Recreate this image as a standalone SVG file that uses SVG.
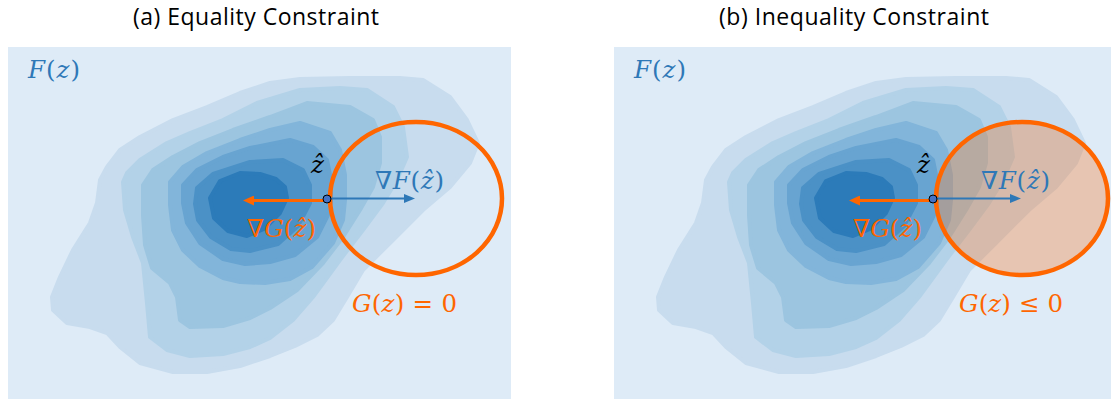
<svg xmlns="http://www.w3.org/2000/svg" width="1111" height="399" viewBox="0 0 1111 399">
<style>
.bg{fill:#deebf7}
.lv polygon{stroke-width:4;stroke-linejoin:round}
.l1{fill:#c8dcee;stroke:#c8dcee}
.l2{fill:#b3d2e8;stroke:#b3d2e8}
.l3{fill:#9cc5e0;stroke:#9cc5e0}
.l4{fill:#82b5da;stroke:#82b5da}
.l5{fill:#68a4d1;stroke:#68a4d1}
.l6{fill:#4b91c6;stroke:#4b91c6}
.l7{fill:#2c7bb9;stroke:#2c7bb9}
.title{font-family:"Open Sans","Liberation Sans",sans-serif;font-size:23px;fill:#000}
.m{font-family:"DejaVu Serif","Liberation Serif",serif;font-size:24.5px}
.i{font-style:italic}
.u{font-style:normal}
.blue{fill:#2e78b7}
.org{fill:#ff6600}
.blk{fill:#000}
.ring{fill:none;stroke:#ff6600;stroke-width:4.5}
.ringf{fill:rgba(255,102,0,0.28);stroke:#ff6600;stroke-width:4.5}
.ao{stroke:#ff6600;stroke-width:3;fill:none}
.ab{stroke:#2e78b7;stroke-width:2;fill:none}
.dot{fill:#4472c4;stroke:#000;stroke-width:1}
</style>
<defs>
<marker id="mo" markerUnits="userSpaceOnUse" markerWidth="12" markerHeight="10" refX="3" refY="5" orient="auto"><path d="M0,0 L11,5 L0,10 z" fill="#ff6600"/></marker>
<marker id="mb" markerUnits="userSpaceOnUse" markerWidth="12" markerHeight="9" refX="3" refY="4.5" orient="auto"><path d="M0,0 L11,4.5 L0,9 z" fill="#2e78b7"/></marker>
<g id="kde" class="lv">
<polygon class="l1" points="52,297 60,277 73,250 90,223 97,203 100,180 107,167 120,150 140,137 173,120 207,107 240,93 270,83 300,79 350,78 400,78 423,80 450,97 467,120 478,143 470,163 450,187 423,210 390,243 363,270 347,297 333,320 317,335 295,346 270,356 240,366 207,372 173,372 140,363 120,347 107,333 90,327 67,323 53,310"/>
<polygon class="l2" points="123,182 127,173 140,160 167,143 190,133 223,120 257,103 300,90 340,88 367,90 393,107 403,127 407,157 397,180 383,203 363,230 340,260 313,297 293,320 270,338 250,347 223,354 190,356 167,350 150,337 147,303 143,263 133,237 125,210"/>
<polygon class="l3" points="143,185 153,170 173,157 200,143 233,130 270,117 307,103 350,107 373,120 380,137 380,163 373,187 360,210 343,237 323,263 297,290 270,308 250,318 223,326 190,327 180,320 177,297 170,283 152,268 145,245 143,215"/>
<polygon class="l4" points="170,182 183,167 207,153 240,140 270,130 300,123 330,133 340,150 345,175 345,200 343,220 333,243 312,267 290,279 265,283 240,282 223,278 200,266 183,250 173,230 170,205"/>
<polygon class="l5" points="183,185 197,170 223,157 250,148 290,140 313,147 327,160 331,180 331,200 328,215 317,237 295,255 270,262 245,264 223,259 200,243 187,223 183,203"/>
<polygon class="l6" points="197,188 213,174 250,162 283,160 303,170 310,185 310,203 298,226 278,244 250,251 231,249 211,237 198,220 195,204"/>
<polygon class="l7" points="210,198 220,181 240,173 260,174 276,179 285,187 287,198 280,213 264,229 247,236 228,231 214,218"/>
</g>
</defs>

<g id="panel-a">
<text class="title" x="133" y="25" textLength="246">(a) Equality Constraint</text>
<rect class="bg" x="8" y="47" width="503" height="352"/>
<use href="#kde"/>
<text id="label-Fz-a" class="m blue" x="28" y="78" textLength="52"><tspan class="i">F</tspan><tspan class="u">(</tspan><tspan class="i">z</tspan><tspan class="u">)</tspan></text>
<ellipse id="constraint-a" class="ring" cx="416" cy="198.5" rx="86" ry="76.5"/>
<text id="label-zhat-a" class="m blk i" x="311" y="173">ẑ</text>
<text id="label-gradF-a" class="m blue" x="375" y="189" textLength="69"><tspan class="u">∇</tspan><tspan class="i">F</tspan><tspan class="u">(</tspan><tspan class="i">ẑ</tspan><tspan class="u">)</tspan></text>
<text id="label-gradG-a" class="m org" x="247" y="237" textLength="69"><tspan class="u">∇</tspan><tspan class="i">G</tspan><tspan class="u">(</tspan><tspan class="i">ẑ</tspan><tspan class="u">)</tspan></text>
<text id="label-G-a" class="m org" x="352" y="312" textLength="105"><tspan class="i">G</tspan><tspan class="u">(</tspan><tspan class="i">z</tspan><tspan class="u">) = 0</tspan></text>
</g>

<g id="panel-b">
<text class="title" x="719" y="25" textLength="270">(b) Inequality Constraint</text>
<rect class="bg" x="614" y="47" width="503" height="352"/>
<use href="#kde" x="606"/>
<text id="label-Fz-b" class="m blue" x="634" y="78" textLength="52"><tspan class="i">F</tspan><tspan class="u">(</tspan><tspan class="i">z</tspan><tspan class="u">)</tspan></text>
<ellipse id="constraint-b" class="ringf" cx="1022" cy="198.5" rx="86" ry="76.5"/>
<text id="label-zhat-b" class="m blk i" x="917" y="173">ẑ</text>
<text id="label-gradF-b" class="m blue" x="981" y="189" textLength="69"><tspan class="u">∇</tspan><tspan class="i">F</tspan><tspan class="u">(</tspan><tspan class="i">ẑ</tspan><tspan class="u">)</tspan></text>
<text id="label-gradG-b" class="m org" x="853" y="237" textLength="69"><tspan class="u">∇</tspan><tspan class="i">G</tspan><tspan class="u">(</tspan><tspan class="i">ẑ</tspan><tspan class="u">)</tspan></text>
<text id="label-G-b" class="m org" x="959" y="312" textLength="104"><tspan class="i">G</tspan><tspan class="u">(</tspan><tspan class="i">z</tspan><tspan class="u">) ≤ 0</tspan></text>
</g>

<g id="connectors">
<line class="ao" x1="327" y1="200.5" x2="251" y2="200.5" marker-end="url(#mo)"/>
<line class="ab" x1="327" y1="198.5" x2="407" y2="198.5" marker-end="url(#mb)"/>
<line class="ao" x1="933" y1="200.5" x2="857" y2="200.5" marker-end="url(#mo)"/>
<line class="ab" x1="933" y1="198.5" x2="1013" y2="198.5" marker-end="url(#mb)"/>
</g>

<g id="point-a"><circle class="dot" cx="327" cy="199" r="4"/></g>
<g id="point-b"><circle class="dot" cx="933" cy="199" r="4"/></g>
</svg>
